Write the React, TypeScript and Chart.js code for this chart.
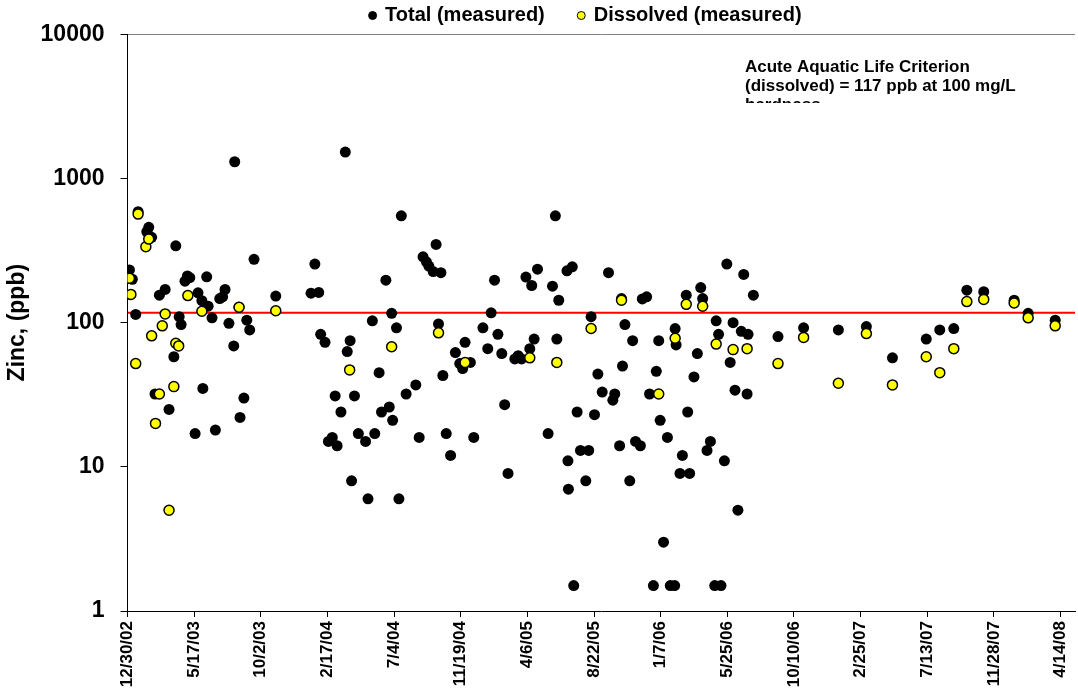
import React, { useEffect, useRef } from 'react';
import { Chart, registerables } from 'chart.js';

Chart.register(...registerables);

// ---- Data (x = days since 12/30/02) ----
const xTickLabels = ['12/30/02', '5/17/03', '10/2/03', '2/17/04', '7/4/04', '11/19/04', '4/6/05', '8/22/05', '1/7/06', '5/25/06', '10/10/06', '2/25/07', '7/13/07', '11/28/07', '4/14/08'];
const tickStepDays = 138;
const axisMaxDays = 1962;
const yTickValues = [1, 10, 100, 1000, 10000];
const criterionPpb = 117;

const totalDays = [4, 10, 17, 22, 40, 44, 50, 57, 66, 78, 86, 96, 100, 107, 111, 119, 124, 129, 140, 146, 154, 156, 164, 167, 175, 182, 191, 197, 202, 210, 220, 222, 231, 233, 241, 247, 253, 262, 307,
  380, 388, 396, 400, 409, 416, 424, 430, 434, 442, 451, 455, 461, 464, 470, 478, 493, 498, 507, 512, 521, 526, 535, 542, 547, 549, 557, 562, 567, 577, 597, 604, 612, 619, 624, 633, 639, 644, 649, 653, 660, 669, 679, 688, 694, 699, 710, 717, 736,
  746, 753, 760, 767, 775, 781, 788, 802, 809, 816, 825, 833, 837, 842, 849, 871, 880, 886, 889, 893, 910, 912, 913, 921, 924, 931, 938, 949, 955, 960, 967, 974, 983, 996, 1005, 1009, 1019, 1023, 1025, 1030, 1040, 1046, 1052, 1062, 1066, 1075, 1081, 1089, 1095, 1100, 1103,
  1110, 1118, 1124, 1133, 1134, 1136, 1144, 1149, 1157, 1160, 1164, 1173, 1180, 1187, 1191, 1200, 1207, 1216, 1219, 1224, 1229, 1236, 1241, 1248, 1254, 1258, 1264, 1271, 1276, 1283, 1285, 1296,
  1347, 1400, 1472, 1530, 1584, 1654, 1682, 1711, 1738, 1773, 1836, 1865, 1921];
const totalZinc = [232, 200, 114, 588, 427, 458, 391, 32, 155, 170, 25, 58, 341, 110, 97, 194, 211, 205, 17, 161, 142, 35, 208, 130, 108, 18, 147, 151, 170, 99, 69, 1306, 128, 22, 30, 104, 89, 275, 153,
  160, 255, 162, 83, 73, 15, 16, 31, 14, 24, 1524, 63, 75, 8, 31, 17, 15, 6, 103, 17, 45, 24, 197, 26, 116, 21, 92, 6, 551, 32, 37, 16, 286, 264, 247, 226, 349, 98, 222, 43, 17, 12, 62, 52, 48, 73, 53, 16, 92,
  66, 117, 197, 83, 61, 27, 9, 56, 59, 56, 207, 66, 181, 77, 235, 17, 179, 551, 77, 143, 229, 11, 7, 244, 1.5, 24, 13, 8, 13, 110, 23, 44, 33, 222, 29, 32, 14, 147, 50, 97, 8, 75, 15, 14, 146, 151, 32, 1.5, 46, 75, 21,
  3, 16, 1.5, 1.5, 91, 70, 9, 12, 155, 24, 9, 42, 61, 175, 147, 13, 15, 1.5, 103, 83, 1.5, 11, 255, 53, 100, 34, 5, 87, 216, 32, 83, 155,
  80, 92, 89, 94, 57, 77, 89, 91, 168, 164, 143, 116, 104];

const dissolvedDays = [4, 7, 17, 22, 38, 44, 50, 58, 66, 72, 78, 86, 96, 100, 106, 125, 154, 231, 307, 460, 547, 644, 699, 833, 889, 960, 1023, 1100, 1134, 1157, 1191, 1219, 1254, 1283, 1347, 1400, 1472, 1530, 1584, 1654, 1682, 1711, 1738, 1773, 1836, 1865, 1921];
const dissolvedZinc = [203, 157, 52, 566, 336, 380, 81, 20, 32, 95, 115, 5, 36, 72, 69, 154, 120, 128, 121, 47, 68, 85, 53, 57, 53, 91, 143, 32, 78, 134, 130, 71, 65, 66, 52, 79, 38, 84, 37, 58, 45, 66, 140, 145, 137, 108, 95];

const annotationLines = ['Acute Aquatic Life Criterion', '(dissolved) = 117 ppb at 100 mg/L', 'hardness'];

const FONT = '"Liberation Sans", Arial, Helvetica, sans-serif';

const legendPlugin = {
  id: 'customLegend',
  afterDraw(chart: any) {
    const ctx = chart.ctx;
    ctx.save();
    ctx.font = `bold 20px ${FONT}`;
    ctx.textBaseline = 'middle';
    ctx.textAlign = 'left';
    const items = [0, 1].map((i) => chart.data.datasets[i]);
    let x = 368.6;
    const y = 15.5;
    items.forEach((ds: any) => {
      ctx.beginPath();
      ctx.arc(x + 4, y, 4, 0, Math.PI * 2);
      ctx.fillStyle = ds.backgroundColor;
      ctx.fill();
      ctx.lineWidth = 1;
      ctx.strokeStyle = '#000';
      ctx.stroke();
      const tx = x + 16.5;
      ctx.fillStyle = '#000';
      ctx.fillText(ds.label, tx, y);
      x = tx + ctx.measureText(ds.label).width + 32.5;
    });
    ctx.restore();
  },
};

const annotationPlugin = {
  id: 'criterionNote',
  afterDraw(chart: any) {
    const ctx = chart.ctx;
    ctx.save();
    ctx.beginPath();
    ctx.rect(700, 40, 370, 63);
    ctx.clip();
    ctx.font = `bold 17px ${FONT}`;
    ctx.fillStyle = '#000';
    ctx.textBaseline = 'alphabetic';
    ctx.textAlign = 'left';
    annotationLines.forEach((t, i) => ctx.fillText(t, 745, 72 + i * 19));
    ctx.restore();
  },
};

export default function App() {
  const ref = useRef<HTMLCanvasElement | null>(null);
  useEffect(() => {
    if (!ref.current) return;
    const totalPts = totalDays.map((d, i) => ({ x: d, y: totalZinc[i] }));
    const dissPts = dissolvedDays.map((d, i) => ({ x: d, y: dissolvedZinc[i] }));
    const chart = new Chart(ref.current, {
      type: 'scatter',
      data: {
        datasets: [
          {
            label: 'Total (measured)',
            data: totalPts,
            backgroundColor: '#000000',
            borderColor: '#000000',
            borderWidth: 0,
            pointRadius: 5.5,
            order: 2,
          },
          {
            label: 'Dissolved (measured)',
            data: dissPts,
            backgroundColor: '#ffff00',
            borderColor: '#000000',
            borderWidth: 1.5,
            pointRadius: 5,
            order: 1,
          },
          {
            type: 'line',
            label: 'criterion',
            data: [{ x: 0, y: criterionPpb }, { x: axisMaxDays, y: criterionPpb }],
            borderColor: '#ff0000',
            borderWidth: 2,
            pointRadius: 0,
            order: 3,
          } as any,
        ],
      },
      options: {
        animation: false,
        responsive: false,
        events: [],
        layout: { autoPadding: false, padding: { top: 34.3, left: 0, right: 3, bottom: 0 } },
        plugins: { legend: { display: false }, tooltip: { enabled: false } },
        scales: {
          x: {
            type: 'linear',
            min: 0,
            max: axisMaxDays,
            afterBuildTicks: (scale: any) => {
              scale.ticks = xTickLabels.map((_, i) => ({ value: i * tickStepDays }));
            },
            afterFit: (scale: any) => {
              scale.height = 83;
              scale.paddingLeft = 0;
              scale.paddingRight = 0;
            },
            ticks: {
              autoSkip: false,
              minRotation: 90,
              maxRotation: 90,
              padding: 4,
              color: '#000',
              font: { family: FONT, size: 17, weight: 'bold' },
              callback: (_v: any, i: number) => xTickLabels[i],
            },
            grid: { drawOnChartArea: false, drawTicks: true, tickLength: 6, color: '#000', tickColor: '#000' },
            border: { display: true, color: '#000', width: 1 },
          },
          y: {
            type: 'logarithmic',
            min: 1,
            max: 10000,
            afterBuildTicks: (scale: any) => {
              scale.ticks = yTickValues.map((v) => ({ value: v }));
            },
            afterFit: (scale: any) => {
              scale.width = 127.5;
            },
            ticks: {
              padding: 16,
              color: '#000',
              font: { family: FONT, size: 23, weight: 'bold' },
              callback: (v: any) => String(v),
            },
            grid: {
              drawOnChartArea: true,
              drawTicks: true,
              tickLength: 7,
              color: (c: any) => (c.tick && c.tick.value === 10000 ? '#808080' : 'rgba(0,0,0,0)'),
              tickColor: '#000',
            },
            border: { display: true, color: '#000', width: 1 },
            title: {
              display: true,
              text: 'Zinc, (ppb)',
              color: '#000',
              font: { family: FONT, size: 23, weight: 'bold' },
              padding: { top: 4, bottom: 0 },
            },
          },
        },
      },
      plugins: [legendPlugin, annotationPlugin],
    } as any);
    return () => chart.destroy();
  }, []);
  return (
    <div style={{ position: 'absolute', left: 0, top: 0, width: 1078, height: 694, background: '#fff' }}>
      <canvas ref={ref} width={1078} height={694} style={{ display: 'block' }} />
    </div>
  );
}
